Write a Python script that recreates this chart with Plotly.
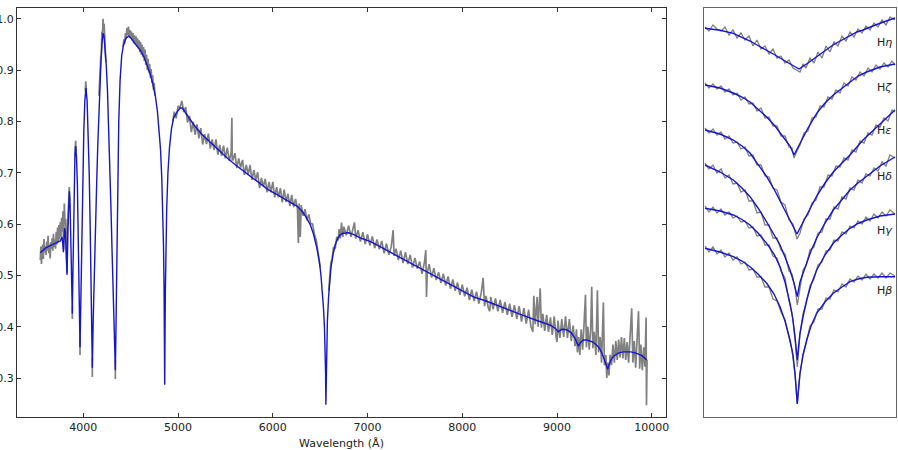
import plotly.graph_objects as go

# ---------------- left panel data: wavelength (Angstrom), normalised flux ----------------
model_spectrum = [
    (3546, 0.544), (3600, 0.553), (3650, 0.558), (3700, 0.562), (3740, 0.565), (3757, 0.567),
    (3768, 0.571), (3775, 0.575), (3784, 0.560), (3790, 0.545), (3796, 0.570), (3803, 0.592),
    (3810, 0.585), (3818, 0.550), (3828, 0.501), (3836, 0.580), (3845, 0.640), (3852, 0.664),
    (3860, 0.640), (3867, 0.580), (3874, 0.510), (3879, 0.460), (3884, 0.425), (3888, 0.480),
    (3893, 0.560), (3899, 0.640), (3906, 0.700), (3912, 0.740), (3919, 0.752), (3928, 0.730),
    (3937, 0.680), (3945, 0.600), (3952, 0.520), (3958, 0.450), (3962, 0.400), (3965, 0.360),
    (3971, 0.420), (3978, 0.500), (3986, 0.600), (3995, 0.700), (4005, 0.780), (4016, 0.840),
    (4028, 0.865), (4040, 0.840), (4051, 0.780), (4062, 0.700), (4072, 0.600), (4081, 0.500),
    (4088, 0.420), (4092, 0.370), (4095, 0.320), (4099, 0.360), (4104, 0.410), (4111, 0.470),
    (4120, 0.540), (4130, 0.610), (4141, 0.680), (4152, 0.750), (4163, 0.810), (4175, 0.870),
    (4187, 0.920), (4197, 0.952), (4208, 0.972), (4218, 0.966), (4230, 0.945), (4242, 0.910),
    (4255, 0.860), (4268, 0.790), (4280, 0.715), (4292, 0.630), (4303, 0.550), (4313, 0.480),
    (4322, 0.410), (4330, 0.355), (4335, 0.330), (4338, 0.315), (4342, 0.360), (4348, 0.450),
    (4355, 0.580), (4363, 0.700), (4374, 0.800), (4388, 0.880), (4405, 0.928), (4425, 0.950),
    (4450, 0.962), (4478, 0.966), (4505, 0.962), (4540, 0.953), (4575, 0.945), (4601, 0.939),
    (4640, 0.926), (4675, 0.910), (4705, 0.893), (4735, 0.872), (4760, 0.850), (4782, 0.820),
    (4800, 0.785), (4815, 0.745), (4828, 0.690), (4838, 0.630), (4846, 0.560), (4852, 0.480),
    (4856, 0.390), (4859, 0.287), (4862, 0.380), (4866, 0.470), (4872, 0.560), (4880, 0.630),
    (4893, 0.700), (4910, 0.750), (4930, 0.785), (4953, 0.807), (4988, 0.818), (5023, 0.826),
    (5045, 0.826), (5070, 0.819), (5100, 0.810), (5164, 0.794), (5250, 0.775), (5350, 0.757),
    (5440, 0.742), (5516, 0.729), (5600, 0.716), (5700, 0.702), (5800, 0.687), (5867, 0.677),
    (5950, 0.667), (6050, 0.657), (6150, 0.646), (6254, 0.635), (6300, 0.627), (6350, 0.614),
    (6395, 0.599), (6430, 0.580), (6465, 0.553), (6490, 0.528), (6508, 0.501), (6522, 0.470),
    (6535, 0.436), (6545, 0.400), (6552, 0.360), (6557, 0.310), (6560, 0.248), (6564, 0.310),
    (6569, 0.360), (6576, 0.410), (6588, 0.456), (6600, 0.490), (6613, 0.514), (6635, 0.540),
    (6659, 0.560), (6685, 0.572), (6711, 0.579), (6740, 0.582), (6770, 0.583), (6800, 0.583),
    (6850, 0.580), (6922, 0.573), (7000, 0.568), (7063, 0.563), (7200, 0.549), (7400, 0.529),
    (7600, 0.510), (7800, 0.490), (8000, 0.470), (8118, 0.458), (8250, 0.450), (8399, 0.440),
    (8600, 0.425), (8787, 0.412), (8927, 0.403), (8980, 0.397), (9015, 0.390), (9050, 0.395),
    (9103, 0.394), (9150, 0.388), (9190, 0.377), (9212, 0.368), (9226, 0.362), (9245, 0.369),
    (9280, 0.374), (9314, 0.374), (9380, 0.370), (9440, 0.360), (9470, 0.350), (9495, 0.338),
    (9515, 0.327), (9535, 0.317), (9552, 0.328), (9575, 0.337), (9600, 0.343), (9650, 0.349),
    (9700, 0.351), (9780, 0.351), (9841, 0.348), (9900, 0.343), (9947, 0.335),
]

GAP = (None, None)
observed_spectrum = [
    # blue end and the high Balmer series
    (3546, 0.530), (3552, 0.556), (3558, 0.522), (3565, 0.548), (3571, 0.560), (3578, 0.532),
    (3585, 0.571), (3592, 0.545), (3600, 0.556), (3607, 0.540), (3614, 0.566), (3621, 0.548),
    (3628, 0.577), (3636, 0.543), (3643, 0.560), (3650, 0.533), (3657, 0.565), (3664, 0.552),
    (3671, 0.572), (3678, 0.548), (3685, 0.581), (3692, 0.555), (3700, 0.570), (3707, 0.552),
    (3714, 0.585), (3721, 0.560), (3728, 0.593), (3735, 0.566), (3742, 0.598), (3750, 0.570),
    (3757, 0.604), (3764, 0.575), (3771, 0.612), (3778, 0.585), (3785, 0.625), (3792, 0.550),
    (3799, 0.640), (3807, 0.600), (3814, 0.610), (3821, 0.560), (3828, 0.505), (3835, 0.600),
    (3843, 0.650), (3852, 0.672), (3858, 0.645), GAP,
    (3884, 0.440), (3884, 0.415), GAP,
    (3914, 0.745), (3919, 0.762), (3924, 0.742), GAP,
    (3965, 0.380), (3965, 0.345), GAP,
    (4020, 0.858), (4026, 0.878), (4032, 0.860), GAP,
    (4095, 0.340), (4095, 0.302), GAP,
    (4165, 0.850), (4172, 0.895), (4178, 0.890), (4184, 0.925), (4190, 0.930), (4196, 0.975),
    (4202, 0.965), (4208, 1.000), (4214, 0.978), (4220, 0.990), (4226, 0.960), (4232, 0.950),
    (4238, 0.915), GAP,
    (4338, 0.335), (4338, 0.298), GAP,
    (4420, 0.945), (4428, 0.960), (4436, 0.950), (4444, 0.972), (4452, 0.960), (4460, 0.982),
    (4468, 0.968), (4476, 0.985), (4484, 0.965), (4492, 0.978), (4500, 0.962), (4508, 0.975),
    (4516, 0.958), (4524, 0.972), (4532, 0.952), (4540, 0.968), (4548, 0.950), (4556, 0.966),
    (4564, 0.945), (4572, 0.962), (4580, 0.942), (4588, 0.958), (4596, 0.935), (4604, 0.955),
    (4612, 0.930), (4620, 0.950), (4628, 0.925), (4636, 0.945), (4644, 0.918), (4652, 0.940),
    (4660, 0.910), (4668, 0.930), (4676, 0.900), (4684, 0.922), (4692, 0.895), (4700, 0.912),
    (4708, 0.885), (4716, 0.902), (4724, 0.875), (4732, 0.890), (4740, 0.862), (4748, 0.875),
    (4756, 0.850), GAP,
    # continuum between H-beta and H-alpha
    (4945, 0.800), (4960, 0.819), (4980, 0.806), (5000, 0.830), (5020, 0.827), (5040, 0.840),
    (5060, 0.818), (5080, 0.828), (5100, 0.798), (5120, 0.811), (5140, 0.779), (5160, 0.799),
    (5180, 0.774), (5200, 0.794), (5220, 0.767), (5240, 0.787), (5260, 0.755), (5280, 0.775),
    (5300, 0.756), (5320, 0.776), (5340, 0.747), (5360, 0.765), (5380, 0.744), (5400, 0.765),
    (5420, 0.735), (5440, 0.754), (5460, 0.733), (5480, 0.753), (5500, 0.728), (5520, 0.749),
    (5540, 0.723), (5560, 0.738), (5568, 0.807), (5572, 0.725), (5580, 0.725), (5600, 0.738),
    (5620, 0.709), (5640, 0.728), (5660, 0.710), (5680, 0.725), (5700, 0.696), (5720, 0.715),
    (5740, 0.696), (5760, 0.715), (5780, 0.686), (5800, 0.705), (5820, 0.686), (5840, 0.701),
    (5860, 0.670), (5880, 0.690), (5900, 0.673), (5920, 0.688), (5940, 0.662), (5960, 0.682),
    (5980, 0.662), (6000, 0.682), (6020, 0.652), (6040, 0.672), (6060, 0.652), (6080, 0.670),
    (6100, 0.642), (6120, 0.667), (6140, 0.643), (6160, 0.659), (6180, 0.635), (6200, 0.657),
    (6220, 0.633), (6240, 0.649), (6260, 0.630), (6270, 0.563), (6278, 0.640), (6290, 0.575),
    (6300, 0.637), (6320, 0.616), (6340, 0.629), (6360, 0.607), (6380, 0.619), (6400, 0.601),
    (6420, 0.600), (6440, 0.579), (6460, 0.567), (6480, 0.540), (6500, 0.516), GAP,
    # red side of H-alpha to the end
    (6590, 0.470), (6600, 0.495), (6613, 0.525), (6625, 0.530), (6640, 0.555), (6659, 0.552),
    (6675, 0.575), (6690, 0.568), (6700, 0.590), (6712, 0.572), (6725, 0.603), (6738, 0.575),
    (6750, 0.595), (6775, 0.578), (6800, 0.597), (6825, 0.575), (6850, 0.592), (6862, 0.603),
    (6875, 0.572), (6900, 0.588), (6925, 0.566), (6950, 0.584), (6975, 0.561), (7000, 0.580),
    (7025, 0.558), (7050, 0.576), (7075, 0.553), (7100, 0.570), (7125, 0.551), (7150, 0.567),
    (7175, 0.543), (7200, 0.562), (7225, 0.540), (7250, 0.556), (7270, 0.588), (7280, 0.538),
    (7300, 0.552), (7325, 0.530), (7350, 0.548), (7375, 0.524), (7400, 0.545), (7425, 0.522),
    (7450, 0.540), (7475, 0.515), (7500, 0.534), (7525, 0.513), (7550, 0.527), (7575, 0.503),
    (7600, 0.525), (7615, 0.549), (7622, 0.458), (7630, 0.505), (7650, 0.522), (7675, 0.496),
    (7700, 0.514), (7725, 0.491), (7750, 0.506), (7775, 0.485), (7800, 0.503), (7825, 0.480),
    (7850, 0.498), (7875, 0.474), (7900, 0.492), (7925, 0.470), (7950, 0.486), (7975, 0.462),
    (8000, 0.482), (8025, 0.459), (8050, 0.476), (8075, 0.452), (8100, 0.472), (8125, 0.450),
    (8150, 0.468), (8175, 0.445), (8200, 0.466), (8220, 0.495), (8235, 0.440), (8250, 0.460),
    (8275, 0.436), (8290, 0.430), (8300, 0.458), (8325, 0.434), (8350, 0.455), (8375, 0.430),
    (8400, 0.452), (8425, 0.427), (8450, 0.448), (8475, 0.423), (8500, 0.445), (8525, 0.419),
    (8550, 0.442), (8575, 0.415), (8600, 0.440), (8625, 0.410), (8650, 0.436), (8675, 0.406),
    (8700, 0.433), (8725, 0.400), (8745, 0.390), (8755, 0.460), (8770, 0.405), (8790, 0.458),
    (8800, 0.400), (8822, 0.475), (8835, 0.398), (8850, 0.425), (8870, 0.392), (8890, 0.423),
    (8910, 0.390), (8930, 0.418), (8950, 0.384), (8970, 0.420), (8990, 0.380), (9000, 0.370),
    (9010, 0.412), (9030, 0.378), (9050, 0.415), (9070, 0.380), (9090, 0.420), (9110, 0.378),
    (9130, 0.415), (9150, 0.372), (9170, 0.402), (9190, 0.362), (9205, 0.395), (9215, 0.350),
    (9228, 0.380), (9240, 0.345), (9255, 0.395), (9270, 0.355), (9285, 0.405), (9300, 0.462),
    (9310, 0.360), (9325, 0.400), (9340, 0.355), (9355, 0.395), (9366, 0.478), (9378, 0.358),
    (9392, 0.390), (9410, 0.345), (9426, 0.471), (9438, 0.350), (9455, 0.380), (9470, 0.330),
    (9489, 0.447), (9500, 0.325), (9515, 0.345), (9525, 0.300), (9535, 0.330), (9548, 0.305),
    (9560, 0.345), (9575, 0.325), (9590, 0.365), (9605, 0.330), (9620, 0.372), (9635, 0.335),
    (9650, 0.375), (9665, 0.340), (9680, 0.380), (9695, 0.338), (9710, 0.378), (9725, 0.335),
    (9740, 0.370), (9755, 0.330), (9770, 0.378), (9788, 0.436), (9800, 0.330), (9815, 0.372),
    (9830, 0.320), (9845, 0.370), (9860, 0.430), (9872, 0.318), (9885, 0.365), (9900, 0.315),
    (9915, 0.360), (9928, 0.322), (9940, 0.418), (9944, 0.247), (9950, 0.335),
]

x_ticks = [4000, 5000, 6000, 7000, 8000, 9000, 10000]
y_ticks = [0.3, 0.4, 0.5, 0.6, 0.7, 0.8, 0.9, 1.0]

# ---------------- right panel: line profiles (offset from line centre, offset flux) ----------------
line_names = ["H<i>η</i>", "H<i>ζ</i>", "H<i>ε</i>", "H<i>δ</i>", "H<i>γ</i>", "H<i>β</i>"]

model_profiles = [
    [(-95, 3.887), (-80, 3.868), (-66.7, 3.837), (-58, 3.80), (-50, 3.76), (-42, 3.715), (-33.3, 3.67),
     (-25, 3.62), (-16.7, 3.57), (-8, 3.52), (-1, 3.48), (8, 3.54), (16.7, 3.60), (25, 3.66), (33, 3.72),
     (42, 3.77), (50, 3.81), (57, 3.85), (63, 3.87), (70, 3.90), (76.7, 3.925), (85, 3.955), (95, 3.99)],
    [(-95, 3.32), (-80, 3.29), (-66.7, 3.24), (-58, 3.20), (-50, 3.15), (-42, 3.08), (-33.3, 3.00),
     (-25, 2.91), (-16.7, 2.80), (-10, 2.71), (-6, 2.62), (-3, 2.68), (0, 2.74), (8, 2.89), (16.7, 3.037),
     (25, 3.14), (33.3, 3.22), (42, 3.29), (50, 3.353), (58, 3.41), (66.7, 3.45), (80, 3.50), (95, 3.53)],
    [(-95, 2.87), (-80, 2.83), (-66.7, 2.77), (-58, 2.71), (-50, 2.64), (-42, 2.53), (-33.3, 2.403),
     (-25, 2.26), (-16.7, 2.103), (-10, 1.97), (-6, 1.89), (-3, 1.83), (0, 1.89), (3, 1.95), (10, 2.09),
     (16.7, 2.21), (25, 2.34), (33.3, 2.45), (42, 2.54), (50, 2.62), (63, 2.77), (76.7, 2.90), (95, 3.07)],
    [(-95, 2.52), (-80, 2.45), (-66.7, 2.37), (-58, 2.29), (-50, 2.203), (-42, 2.09), (-33.3, 1.95),
     (-26, 1.83), (-20, 1.72), (-15, 1.60), (-10, 1.47), (-6, 1.34), (-2.7, 1.203), (0, 1.35), (3, 1.44),
     (6.7, 1.55), (11, 1.66), (16.7, 1.79), (25, 1.94), (33.3, 2.07), (42, 2.18), (50, 2.27), (58, 2.34),
     (66.7, 2.41), (80, 2.51), (95, 2.60)],
    [(-95, 2.087), (-80, 2.06), (-66.7, 2.02), (-58, 1.975), (-50, 1.92), (-42, 1.84), (-33.3, 1.737),
     (-26, 1.63), (-20, 1.503), (-15, 1.35), (-10, 1.137), (-7, 0.97), (-5, 0.803), (-3.5, 0.68),
     (-2.7, 0.57), (-1.5, 0.70), (0, 0.837), (3, 1.00), (6.7, 1.17), (11, 1.32), (16.7, 1.47), (25, 1.62),
     (33.3, 1.737), (42, 1.82), (50, 1.887), (58, 1.935), (66.7, 1.97), (80, 2.01), (95, 2.03)],
    [(-95, 1.687), (-80, 1.65), (-66.7, 1.603), (-58, 1.56), (-50, 1.503), (-42, 1.43), (-33.3, 1.337),
     (-26, 1.23), (-20, 1.103), (-15, 0.96), (-10, 0.77), (-7, 0.62), (-5, 0.44), (-3.5, 0.28),
     (-2.7, 0.13), (-1.5, 0.28), (0, 0.44), (3, 0.62), (6.7, 0.77), (11, 0.91), (16.7, 1.037), (25, 1.15),
     (33.3, 1.237), (42, 1.30), (50, 1.353), (58, 1.38), (66.7, 1.397), (80, 1.402), (95, 1.403)],
]

observed_profiles = [
    [(-95, 3.90), (-91, 3.86), (-87, 3.92), (-83, 3.88), (-79, 3.86), (-75, 3.90), (-71, 3.82), (-67, 3.87),
     (-63, 3.79), (-59, 3.84), (-55, 3.77), (-51, 3.81), (-47, 3.71), (-43, 3.77), (-39, 3.68), (-35, 3.71),
     (-31, 3.63), (-27, 3.68), (-23, 3.59), (-19, 3.61), (-15, 3.54), (-11, 3.57), (-7, 3.49), (-3, 3.47),
     (0, 3.45), (3, 3.53), (6, 3.49), (10, 3.59), (14, 3.54), (18, 3.65), (22, 3.59), (26, 3.71), (30, 3.65),
     (34, 3.75), (38, 3.71), (42, 3.81), (46, 3.76), (50, 3.85), (54, 3.80), (58, 3.88), (62, 3.84),
     (66, 3.91), (70, 3.87), (74, 3.94), (78, 3.90), (82, 3.97), (86, 3.92), (90, 4.00), (95, 3.97)],
    [(-95, 3.34), (-91, 3.29), (-87, 3.33), (-83, 3.28), (-79, 3.31), (-75, 3.25), (-71, 3.28), (-67, 3.22),
     (-63, 3.24), (-59, 3.17), (-55, 3.20), (-51, 3.13), (-47, 3.14), (-43, 3.06), (-39, 3.09), (-35, 2.99),
     (-31, 3.00), (-27, 2.91), (-23, 2.91), (-19, 2.81), (-15, 2.81), (-11, 2.70), (-8, 2.69), (-6, 2.59),
     (-3, 2.66), (0, 2.72), (4, 2.84), (8, 2.86), (12, 2.99), (16, 3.00), (20, 3.11), (24, 3.10), (28, 3.20),
     (32, 3.18), (36, 3.27), (40, 3.24), (44, 3.34), (48, 3.31), (52, 3.40), (56, 3.37), (60, 3.45),
     (64, 3.41), (68, 3.49), (72, 3.45), (76, 3.52), (80, 3.48), (84, 3.54), (88, 3.50), (92, 3.56), (95, 3.52)],
    [(-95, 2.89), (-91, 2.84), (-87, 2.88), (-83, 2.82), (-79, 2.85), (-75, 2.78), (-71, 2.81), (-67, 2.74),
     (-63, 2.75), (-59, 2.68), (-55, 2.70), (-51, 2.61), (-47, 2.62), (-43, 2.52), (-39, 2.52), (-35, 2.41),
     (-31, 2.40), (-27, 2.29), (-23, 2.27), (-19, 2.15), (-15, 2.12), (-11, 1.97), (-7, 1.93), (-3, 1.78),
     (0, 1.84), (4, 1.98), (8, 2.02), (12, 2.14), (16, 2.17), (20, 2.30), (24, 2.30), (28, 2.42), (32, 2.41),
     (36, 2.51), (40, 2.50), (44, 2.59), (48, 2.57), (52, 2.67), (56, 2.65), (60, 2.76), (64, 2.74),
     (68, 2.84), (72, 2.82), (76, 2.92), (80, 2.90), (84, 2.99), (88, 2.96), (92, 3.07), (95, 3.05)],
    [(-95, 2.54), (-91, 2.48), (-87, 2.52), (-83, 2.44), (-79, 2.48), (-75, 2.39), (-71, 2.42), (-67, 2.33),
     (-63, 2.34), (-59, 2.25), (-55, 2.27), (-51, 2.16), (-47, 2.16), (-43, 2.04), (-39, 2.05), (-35, 1.92),
     (-31, 1.92), (-27, 1.79), (-23, 1.79), (-19, 1.67), (-15, 1.63), (-11, 1.46), (-8, 1.43), (-5, 1.29),
     (-2.7, 1.12), (0, 1.30), (3, 1.47), (6, 1.51), (10, 1.67), (14, 1.70), (18, 1.84), (22, 1.85),
     (26, 1.98), (30, 1.98), (34, 2.10), (38, 2.08), (42, 2.20), (46, 2.18), (50, 2.29), (54, 2.27),
     (58, 2.37), (62, 2.34), (66, 2.43), (70, 2.41), (74, 2.49), (78, 2.46), (82, 2.55), (86, 2.51),
     (90, 2.62), (95, 2.59)],
    [(-95, 2.11), (-91, 2.05), (-87, 2.10), (-83, 2.04), (-79, 2.08), (-75, 2.02), (-71, 2.05), (-67, 1.99),
     (-63, 2.01), (-59, 1.95), (-55, 1.96), (-51, 1.89), (-47, 1.90), (-43, 1.81), (-39, 1.82), (-35, 1.72),
     (-31, 1.72), (-27, 1.61), (-23, 1.59), (-19, 1.46), (-15, 1.39), (-11, 1.16), (-8, 1.04), (-5, 0.78),
     (-2.7, 0.50), (0, 0.83), (3, 1.03), (6, 1.13), (10, 1.31), (14, 1.38), (18, 1.52), (22, 1.55),
     (26, 1.66), (30, 1.67), (34, 1.77), (38, 1.76), (42, 1.85), (46, 1.83), (50, 1.91), (54, 1.89),
     (58, 1.96), (62, 1.93), (66, 2.00), (70, 1.96), (74, 2.03), (78, 1.99), (82, 2.05), (86, 2.01),
     (90, 2.07), (95, 2.03)],
    [(-95, 1.71), (-91, 1.65), (-87, 1.70), (-83, 1.63), (-79, 1.67), (-75, 1.60), (-71, 1.64), (-67, 1.57),
     (-63, 1.60), (-59, 1.53), (-55, 1.55), (-51, 1.47), (-47, 1.48), (-43, 1.40), (-39, 1.40), (-35, 1.30),
     (-31, 1.30), (-27, 1.18), (-23, 1.16), (-19, 1.05), (-15, 0.97), (-11, 0.79), (-8, 0.67), (-5, 0.42),
     (-2.7, 0.13), (0, 0.43), (3, 0.62), (6, 0.73), (10, 0.91), (14, 0.95), (18, 1.08), (22, 1.08),
     (26, 1.19), (30, 1.18), (34, 1.27), (38, 1.25), (42, 1.33), (46, 1.30), (50, 1.38), (54, 1.35),
     (58, 1.41), (62, 1.37), (66, 1.43), (70, 1.38), (74, 1.43), (78, 1.39), (82, 1.44), (86, 1.39),
     (90, 1.44), (95, 1.41)],
]

# ---------------- figure ----------------
GRAY = "#808080"
BLUE = "#1515cc"
FONT = "DejaVu Sans, Arial, sans-serif"


def split(points):
    return [p[0] for p in points], [p[1] for p in points]


fig = go.Figure()

ox, oy = split(observed_spectrum)
mx, my = split(model_spectrum)
fig.add_trace(go.Scatter(x=ox, y=oy, mode="lines", line=dict(color=GRAY, width=1.7),
                         connectgaps=False, xaxis="x", yaxis="y", hoverinfo="skip"))
fig.add_trace(go.Scatter(x=mx, y=my, mode="lines", line=dict(color=BLUE, width=1.4),
                         xaxis="x", yaxis="y", hoverinfo="skip"))

for obs in observed_profiles:
    px, py = split(obs)
    fig.add_trace(go.Scatter(x=px, y=py, mode="lines", line=dict(color=GRAY, width=1.3),
                             xaxis="x2", yaxis="y2", hoverinfo="skip"))
for mod in model_profiles:
    px, py = split(mod)
    fig.add_trace(go.Scatter(x=px, y=py, mode="lines", line=dict(color=BLUE, width=1.4),
                             xaxis="x2", yaxis="y2", hoverinfo="skip"))

label_y = [3.75, 3.30, 2.87, 2.41, 1.87, 1.27]
for name, ly in zip(line_names, label_y):
    fig.add_annotation(x=84, y=ly, xref="x2", yref="y2", text=name, showarrow=False,
                       font=dict(family=FONT, size=11, color="#222"), xanchor="center", yanchor="middle")

axis_common = dict(showgrid=False, zeroline=False, showline=True, linecolor="#333", linewidth=1,
                   mirror="allticks", ticks="inside", ticklen=4, tickcolor="#333", tickwidth=1,
                   automargin=False, tickfont=dict(family=FONT, size=11, color="#222"))

fig.update_layout(
    width=898, height=450,
    margin=dict(l=0, r=0, t=0, b=0),
    paper_bgcolor="white", plot_bgcolor="white",
    showlegend=False,
    xaxis=dict(domain=[17 / 898, 666 / 898], range=[3300, 10150], tickvals=x_ticks,
               ticktext=[str(v) for v in x_ticks], anchor="y",
               title=dict(text="Wavelength (Å)", font=dict(family=FONT, size=11, color="#222"), standoff=6),
               **axis_common),
    yaxis=dict(domain=[1 - 417 / 450, 1 - 8 / 450], range=[0.224, 1.021], tickvals=y_ticks,
               ticktext=[f"{v:.1f}" for v in y_ticks], anchor="x", **axis_common),
    xaxis2=dict(domain=[704 / 898, 896 / 898], range=[-96, 96], showgrid=False, zeroline=False,
                showline=True, linecolor="#666", linewidth=1.2, mirror=True, showticklabels=False,
                ticks="", anchor="y2", automargin=False),
    yaxis2=dict(domain=[1 - 417 / 450, 1 - 8 / 450], range=[0, 4.09], showgrid=False, zeroline=False,
                showline=True, linecolor="#666", linewidth=1.2, mirror=True, showticklabels=False,
                ticks="", anchor="x2", automargin=False),
)

fig.write_html("out.html")
